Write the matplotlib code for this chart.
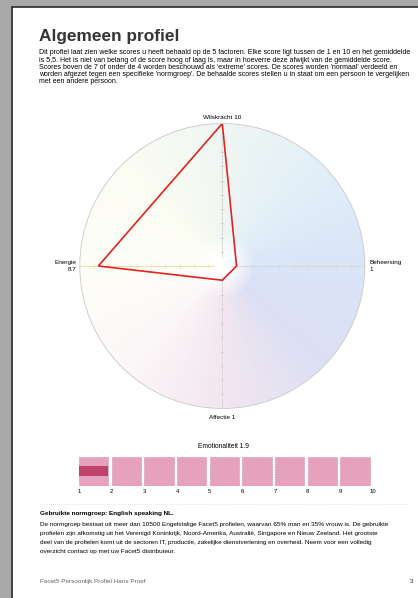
import numpy as np
import matplotlib
matplotlib.use("Agg")
import matplotlib.pyplot as plt
from matplotlib.patches import Rectangle
from matplotlib.colors import to_rgb

plt.rcParams['font.family'] = ['Liberation Sans', 'DejaVu Sans']

# ---------------- data ----------------
factors = ["Wilskracht", "Beheersing", "Affectie", "Energie"]
scores = [10, 1, 1, 8.7]
emo_label = "Emotionaliteit"
emo_score = 1.9
scale_ticks = [1, 2, 3, 4, 5, 6, 7, 8, 9, 10]

title = "Algemeen profiel"
intro_lines = [
    "Dit profiel laat zien welke scores u heeft behaald op de 5 factoren. Elke score ligt tussen de 1 en 10 en het gemiddelde",
    "is 5,5. Het is niet van belang of de score hoog of laag is, maar in hoeverre deze afwijkt van de gemiddelde score.",
    "Scores boven de 7 of onder de 4 worden beschouwd als 'extreme' scores. De scores worden 'normaal' verdeeld en",
    "worden afgezet tegen een specifieke 'normgroep'. De behaalde scores stellen u in staat om een persoon te vergelijken",
    "met een andere persoon.",
]
norm_title = "Gebruikte normgroep: English speaking NL."
norm_lines = [
    "De normgroep bestaat uit meer dan 10500 Engelstalige Facet5 profielen, waarvan 65% man en 35% vrouw is. De gebruikte",
    "profielen zijn afkomstig uit het Verenigd Koninkrijk, Noord-Amerika, Australië, Singapore en Nieuw Zeeland. Het grootste",
    "deel van de profielen komt uit de sectoren IT, productie, zakelijke dienstverlening en overheid. Neem voor een volledig",
    "overzicht contact op met uw Facet5 distributeur.",
]
footer = "Facet5 Persoonlijk Profiel Hans Proef"
page_no = "3"

# ---------------- figure ----------------
W, H = 418, 598
fig = plt.figure(figsize=(W / 100, H / 100), dpi=100)
fig.patch.set_facecolor("#a9a9a9")

def fx(x):
    return x / W

def fy(y):
    return 1 - y / H

# page
fig.patches.append(Rectangle((fx(12), 0), 1 - fx(12), fy(7), transform=fig.transFigure,
                             facecolor="white", edgecolor="none", zorder=-5))
fig.add_artist(plt.Line2D([fx(12), fx(12)], [0, fy(7)], color="#3a3a3a", lw=1.3, transform=fig.transFigure))
fig.add_artist(plt.Line2D([fx(12), 1], [fy(7), fy(7)], color="#3a3a3a", lw=1.3, transform=fig.transFigure))

# header text
fig.text(fx(39), fy(36.5), title, fontsize=12.4, fontweight="bold", color="#353535", va="center", ha="left")
y0, dy = 52.7, 7.3
for i, line in enumerate(intro_lines):
    fig.text(fx(39), fy(y0 + i * dy), line, fontsize=5.0, color="#000000", va="center", ha="left")

# ---------------- radar ----------------
cx, cy, R = 222.3, 266.0, 142.5
ax = fig.add_axes([fx(cx - R), fy(cy + R), 2 * R / W, 2 * R / H], projection="polar")
ax.set_theta_zero_location("N")
ax.set_theta_direction(-1)
ax.set_ylim(0, 10)
ax.set_xticks([])
ax.set_yticks([])
ax.grid(False)
ax.set_facecolor("none")
ax.spines["polar"].set_color("#cfcfcf")
ax.spines["polar"].set_linewidth(0.7)

# angular colour gradient background
anchor_deg = [0, 45, 90, 135, 180, 225, 270, 315, 360]
anchor_col = ["#eff6f2", "#e2eff8", "#d9e4f7", "#dcdff4", "#f2e6ef", "#fcf7f8", "#fdfdf7", "#fbfcf2", "#eff6f2"]
anchor_rgb = np.array([to_rgb(c) for c in anchor_col])
nt, nr = 360, 50
t_edges = np.linspace(0, 2 * np.pi, nt + 1)
r_edges = np.linspace(0, 10, nr + 1)
t_mid = np.degrees((t_edges[:-1] + t_edges[1:]) / 2)
r_mid = (r_edges[:-1] + r_edges[1:]) / 2
col_t = np.stack([np.interp(t_mid, anchor_deg, anchor_rgb[:, k]) for k in range(3)], axis=-1)
fade = np.clip((r_mid - 0.5) / 1.8, 0, 1)[:, None, None]
C = 1 - (1 - col_t[None, :, :]) * fade
TT, RR = np.meshgrid(t_edges, r_edges)
ax.pcolormesh(TT, RR, C, shading="flat", zorder=0)

thetas = np.array([0, np.pi / 2, np.pi, 3 * np.pi / 2])
for th, nm in zip(thetas, factors):
    axis_col = "#f0d9a8" if nm == "Energie" else "#d6d6d6"
    ax.plot([th, th], [0.6, 10], color=axis_col, lw=0.6, zorder=1)
    mk = "_" if th in (0, np.pi) else "|"
    ax.plot([th] * 9, np.arange(1, 10), ls="none", marker=mk, ms=2.5, mew=0.5, color=axis_col, zorder=1)

vals = np.array(scores)
ax.plot(np.append(thetas, thetas[0]), np.append(vals, vals[0]), color="#e32222", lw=1.2, zorder=3,
        solid_joinstyle="miter")

def fmt(v):
    return f"{v:g}"

fs = 4.6
ax.text(0, 10.45, f"{factors[0]} {fmt(scores[0])}", ha="center", va="center", fontsize=fs, clip_on=False)
ax.text(np.pi, 10.65, f"{factors[2]} {fmt(scores[2])}", ha="center", va="center", fontsize=fs, clip_on=False)
ax.text(np.pi / 2, 10.3, f"{factors[1]}\n{fmt(scores[1])}", ha="left", va="center", fontsize=fs,
        linespacing=1.6, clip_on=False)
ax.text(3 * np.pi / 2, 10.25, f"{factors[3]}\n{fmt(scores[3])}", ha="right", va="center", fontsize=fs,
        linespacing=1.6, multialignment="right", clip_on=False)

# ---------------- emotionaliteit bar ----------------
bx0, bx1 = 79.0, 373.0
by0, by1 = 456.7, 486.0
bax = fig.add_axes([fx(bx0), fy(by1), (bx1 - bx0) / W, (by1 - by0) / H])
bax.set_xlim(scale_ticks[0], scale_ticks[-1])
bax.set_ylim(0, 1)
bax.set_facecolor("none")
for s in bax.spines.values():
    s.set_visible(False)
for t in scale_ticks[:-1]:
    bax.add_patch(Rectangle((t + 0.0, 0), 0.9, 1, facecolor="#e6a2bd", edgecolor="#d286a5",
                            lw=0.6, ls=(0, (1, 1))))
bax.add_patch(Rectangle((scale_ticks[0], 0.34), emo_score - scale_ticks[0], 0.33,
                        facecolor="#c0436d", edgecolor="none"))
bax.set_yticks([])
bax.set_xticks(scale_ticks)
bax.set_xticklabels([str(t) for t in scale_ticks], fontsize=4.2)
bax.tick_params(axis="x", length=0, pad=2.2)
fig.text(fx(223), fy(446.7), f"{emo_label} {fmt(emo_score)}", ha="center", va="center", fontsize=4.8)

# ---------------- bottom text ----------------
fig.add_artist(plt.Line2D([fx(40), fx(410)], [fy(504), fy(504)], color="#dddddd", lw=0.6,
                          ls=(0, (1, 1.5)), transform=fig.transFigure))
fig.text(fx(40), fy(513), norm_title, fontsize=4.6, fontweight="bold", color="#000000", va="center")
for i, line in enumerate(norm_lines):
    fig.text(fx(40), fy(524.3 + i * 9.1), line, fontsize=4.6, color="#000000", va="center")
fig.text(fx(40), fy(581.7), footer, fontsize=4.6, color="#666666", va="center")
fig.text(fx(413), fy(581.7), page_no, fontsize=4.6, color="#222222", va="center", ha="right")

fig.savefig("out.png", dpi=100)
